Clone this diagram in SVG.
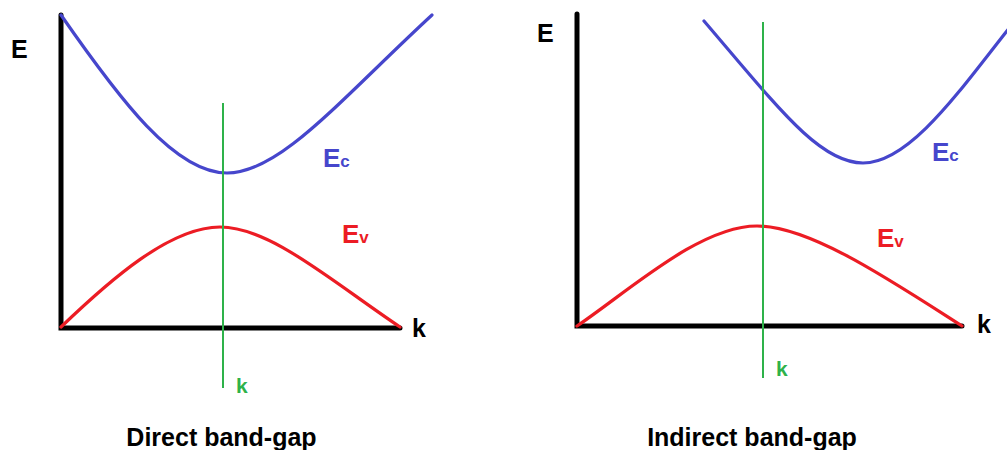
<svg xmlns="http://www.w3.org/2000/svg" width="1007" height="450" viewBox="0 0 1007 450">
<style>
.axis{stroke:#000;stroke-width:5;stroke-linecap:round;fill:none}
.cb{stroke:#4646cc;stroke-width:3.2;fill:none;stroke-linecap:round}
.vb{stroke:#ec1c24;stroke-width:3.2;fill:none;stroke-linecap:round}
.kl{stroke:#2eb24a;stroke-width:2;fill:none}
text{font-family:"Liberation Sans",Arial,sans-serif;font-weight:bold}
.lbl{font-size:25px;fill:#000}
.ec{font-size:26px;fill:#4646cc}
.ev{font-size:26px;fill:#ec1c24}
.sub{font-size:17px}
.gk{font-size:21px;fill:#2eb24a}
.title{font-size:25px;fill:#000}
</style>
<rect width="1007" height="450" fill="#fff"/>
<g id="direct">
<g id="direct-axes">
<path class="axis" d="M61,15 V328 H400"/>
<text class="lbl" x="11" y="58">E</text>
<text class="lbl" x="412" y="337" font-size="23">k</text>
</g>
<g id="direct-conduction">
<path class="cb" d="M61,15 C120,100 175,173 227,173 C280,173 340,100 432,15"/>
<text class="ec" x="323" y="167">E<tspan class="sub">c</tspan></text>
</g>
<g id="direct-valence">
<path class="vb" d="M61,327 C110,280 170,227 220,227 C270,227 330,280 400,327"/>
<text class="ev" x="342" y="243">E<tspan class="sub">v</tspan></text>
</g>
<g id="direct-k">
<line class="kl" x1="223" y1="103" x2="223" y2="388"/>
<text class="gk" x="236" y="393">k</text>
</g>
<text class="title" x="221.5" y="446" text-anchor="middle">Direct band-gap</text>
</g>
<g id="indirect">
<g id="indirect-axes">
<path class="axis" d="M577,14 V326 H962"/>
<text class="lbl" x="537" y="42">E</text>
<text class="lbl" x="977" y="333" font-size="23">k</text>
</g>
<g id="indirect-conduction">
<path class="cb" d="M704,21 C780,110 820,163 863,163 C910,163 960,90 1010,27"/>
<text class="ec" x="932" y="161">E<tspan class="sub">c</tspan></text>
</g>
<g id="indirect-valence">
<path class="vb" d="M577,326 C630,290 700,226 757,226 C810,226 890,280 962,326"/>
<text class="ev" x="877" y="247">E<tspan class="sub">v</tspan></text>
</g>
<g id="indirect-k">
<line class="kl" x1="763" y1="22" x2="763" y2="378"/>
<text class="gk" x="776" y="376">k</text>
</g>
<text class="title" x="752" y="446" text-anchor="middle">Indirect band-gap</text>
</g>
</svg>
